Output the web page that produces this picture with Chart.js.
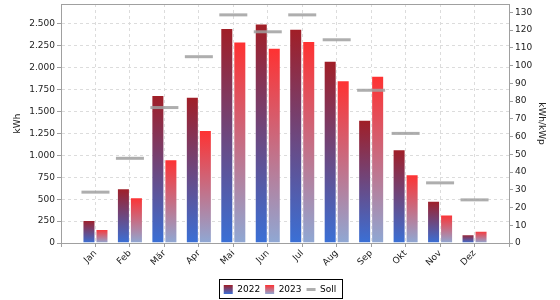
<!DOCTYPE html>
<html>
<head>
<meta charset="utf-8">
<script src="https://cdn.jsdelivr.net/npm/chart.js@4"></script>
<style>
html,body{margin:0;padding:0;background:#fff;}
#wrap{width:560px;height:300px;}
</style>
</head>
<body>
<div id="wrap"><canvas id="c" width="560" height="300"></canvas></div>
<script>
const months = ['Jan','Feb','Mär','Apr','Mai','Jun','Jul','Aug','Sep','Okt','Nov','Dez'];
const values2022 = [261, 625, 1689, 1667, 2451, 2504, 2443, 2080, 1405, 1068, 481, 99];
const values2023 = [159, 523, 955, 1290, 2299, 2227, 2303, 1856, 1909, 784, 326, 140];
const sollValues = [580, 966, 1545, 2125, 2602, 2409, 2602, 2318, 1742, 1250, 686, 492];
const leftMax = 2726;
const rightMax = 134.7;
const leftStep = 250;
const rightStep = 10;

const labels = [''].concat(months, ['']);
const pad = arr => [null].concat(arr, [null]);

function fmt(v){
  return String(Math.round(v)).replace(/\B(?=(\d{3})+(?!\d))/g, '.');
}
function stepTicks(max, step){
  const out = [];
  for (let k = 0; k * step <= max + 1e-9; k++) out.push({value: k * step});
  return out;
}

function barGradient(top, bottom){
  return function(ctx){
    const chart = ctx.chart;
    if (!chart.chartArea || ctx.type !== 'data' || ctx.raw == null) return top;
    const y = chart.scales.y;
    const y0 = y.getPixelForValue(0);
    const y1 = y.getPixelForValue(ctx.raw);
    if (!isFinite(y0) || !isFinite(y1) || y0 === y1) return top;
    const g = chart.ctx.createLinearGradient(0, y1, 0, y0);
    g.addColorStop(0, top);
    g.addColorStop(1, bottom);
    return g;
  };
}
const c2022 = ['#a11e26', '#3a70d6'];
const c2023 = ['#ff3131', '#8fa8d4'];
const sollColor = 'rgba(160,160,160,0.85)';

const legendDeco = {
  id: 'legendDeco',
  beforeDraw(chart){
    const lg = chart.legend;
    if (!lg || !lg.legendItems || !lg.legendHitBoxes) return;
    const cols = [c2022, c2023];
    lg.legendItems.forEach((it, i) => {
      const hb = lg.legendHitBoxes[i];
      if (!hb || i > 1) return;
      const g = chart.ctx.createLinearGradient(0, hb.top, 0, hb.top + hb.height);
      g.addColorStop(0, cols[i][0]);
      g.addColorStop(1, cols[i][1]);
      it.fillStyle = g;
    });
  },
  afterDraw(chart){
    const lg = chart.legend;
    const ctx = chart.ctx;
    const ca = chart.chartArea;
    ctx.save();
    ctx.strokeStyle = '#a0a0a0';
    ctx.lineWidth = 1;
    ctx.beginPath();
    ctx.moveTo(ca.left, Math.round(ca.top) + 0.5);
    ctx.lineTo(ca.right, Math.round(ca.top) + 0.5);
    ctx.stroke();
    if (lg && lg.legendHitBoxes && lg.legendHitBoxes.length){
      const hbs = lg.legendHitBoxes;
      let l = Infinity, r = -Infinity, t = Infinity, b = -Infinity;
      hbs.forEach(h => { l = Math.min(l, h.left); r = Math.max(r, h.left + h.width); t = Math.min(t, h.top); b = Math.max(b, h.top + h.height); });
      ctx.strokeStyle = '#000';
      ctx.lineWidth = 1;
      ctx.strokeRect(Math.round(l - 5) + 0.5, Math.round(t - 6) + 0.5, Math.round(r - l + 10), Math.round(b - t + 10));
    }
    ctx.restore();
  }
};

const tickFont = {family: 'DejaVu Sans', size: 9};

new Chart(document.getElementById('c'), {
  type: 'bar',
  data: {
    labels: labels,
    datasets: [
      {
        label: '2022', data: pad(values2022), yAxisID: 'y', order: 2,
        backgroundColor: barGradient(c2022[0], c2022[1]),
        borderColor: 'rgba(255,255,255,0.3)', borderWidth: 1,
        categoryPercentage: 0.755, barPercentage: 1
      },
      {
        label: '2023', data: pad(values2023), yAxisID: 'y', order: 2,
        backgroundColor: barGradient(c2023[0], c2023[1]),
        borderColor: 'rgba(255,255,255,0.3)', borderWidth: 1,
        categoryPercentage: 0.755, barPercentage: 1
      },
      {
        type: 'line', label: 'Soll', data: pad(sollValues), yAxisID: 'y', order: 0,
        showLine: false, borderWidth: 0, pointStyle: 'line',
        pointRadius: ctx => ctx.raw == null ? 0 : 14,
        pointHoverRadius: ctx => ctx.raw == null ? 0 : 14,
        pointBorderWidth: 3, pointBorderColor: sollColor,
        borderColor: sollColor, backgroundColor: sollColor
      }
    ]
  },
  options: {
    responsive: false,
    animation: false,
    devicePixelRatio: 1,
    layout: {padding: {top: 4, left: 0, right: 0, bottom: -4}},
    plugins: {
      tooltip: {enabled: false},
      legend: {
        position: 'bottom',
        labels: {
          font: {family: 'DejaVu Sans', size: 9},
          color: '#000',
          usePointStyle: true,
          pointStyleWidth: 9,
          boxHeight: 9,
          padding: 5,
          generateLabels(chart){
            return chart.data.datasets.map((ds, i) => ({
              text: ds.label,
              fillStyle: i === 0 ? c2022[0] : (i === 1 ? c2023[0] : '#aaa'),
              strokeStyle: i < 2 ? 'rgba(255,255,255,0.3)' : sollColor,
              lineWidth: i < 2 ? 0 : 3,
              pointStyle: i < 2 ? 'rect' : 'line',
              datasetIndex: i,
              hidden: false,
              fontColor: '#000'
            }));
          }
        }
      }
    },
    scales: {
      x: {
        offset: false,
        grid: {offset: false, color: '#dcdcdc', drawTicks: true, tickLength: 4, tickColor: '#a0a0a0', tickBorderDash: []},
        border: {display: true, color: '#a0a0a0', width: 1, dash: [3, 3]},
        ticks: {font: tickFont, color: '#222', minRotation: 45, maxRotation: 45, autoSkip: false, padding: 1},
        afterFit(s){ s.height = 37; s.paddingLeft = 0; s.paddingRight = 0; }
      },
      y: {
        position: 'left', min: 0, max: leftMax,
        grid: {color: '#dcdcdc', drawTicks: true, tickLength: 4, tickColor: '#a0a0a0', tickBorderDash: []},
        border: {display: true, color: '#a0a0a0', width: 1, dash: [3, 3]},
        ticks: {font: tickFont, color: '#222', padding: 2, autoSkip: false, callback: v => fmt(v)},
        afterBuildTicks(s){ s.ticks = stepTicks(leftMax, leftStep); },
        title: {display: true, text: 'kWh', font: tickFont, color: '#222', padding: {top: 12, bottom: 0}},
        afterFit(s){ s.width = 61; s.paddingTop = 0; s.paddingBottom = 0; }
      },
      y1: {
        position: 'right', min: 0, max: rightMax,
        grid: {drawOnChartArea: false, drawTicks: true, tickLength: 4, tickColor: '#a0a0a0', color: '#dcdcdc'},
        border: {display: true, color: '#a0a0a0', width: 1},
        ticks: {font: tickFont, color: '#222', padding: 2, autoSkip: false},
        afterBuildTicks(s){ s.ticks = stepTicks(rightMax, rightStep); },
        title: {display: true, text: 'kWh/kWp', font: tickFont, color: '#222', padding: {top: 13, bottom: 0}},
        afterFit(s){ s.width = 51; s.paddingTop = 0; s.paddingBottom = 0; }
      }
    }
  },
  plugins: [legendDeco]
});
</script>
</body>
</html>
